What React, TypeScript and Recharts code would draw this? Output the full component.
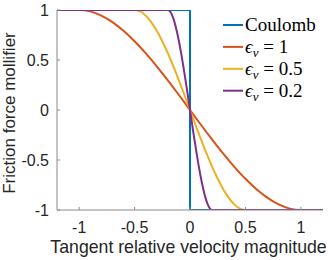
import React from "react";
import { LineChart, Line, XAxis, YAxis, Customized } from "recharts";

// Series names and colours
const seriesNames = ["Coulomb", "eps1", "eps05", "eps02"];
const seriesLabels = ["Coulomb", "1", "0.5", "0.2"];
const seriesColors = ["#0072BD", "#D95319", "#EDB120", "#7E2F8E"];

// Tick labels
const xTicks = [-1, -0.5, 0, 0.5, 1];
const yTicks = [-1, -0.5, 0, 0.5, 1];

// Coulomb (step)
const coulombV = [-1.2, 0, 0, 1.2];
const coulombF = [1, 1, -1, -1];

// epsilon_v = 1
const eps1V = [-1.2, -1, -0.9, -0.8, -0.7, -0.6, -0.5, -0.4, -0.3, -0.2, -0.1, 0, 0.1, 0.2, 0.3, 0.4, 0.5, 0.6, 0.7, 0.8, 0.9, 1, 1.2];
const eps1F = [1, 1, 0.986, 0.944, 0.879, 0.792, 0.688, 0.568, 0.437, 0.296, 0.15, 0, -0.15, -0.296, -0.437, -0.568, -0.688, -0.792, -0.879, -0.944, -0.986, -1, -1];

// epsilon_v = 0.5
const eps05V = [-1.2, -0.5, -0.45, -0.4, -0.35, -0.3, -0.25, -0.2, -0.15, -0.1, -0.05, 0, 0.05, 0.1, 0.15, 0.2, 0.25, 0.3, 0.35, 0.4, 0.45, 0.5, 1.2];
const eps05F = [1, 1, 0.986, 0.944, 0.879, 0.792, 0.688, 0.568, 0.437, 0.296, 0.15, 0, -0.15, -0.296, -0.437, -0.568, -0.688, -0.792, -0.879, -0.944, -0.986, -1, -1];

// epsilon_v = 0.2
const eps02V = [-1.2, -0.2, -0.18, -0.16, -0.14, -0.12, -0.1, -0.08, -0.06, -0.04, -0.02, 0, 0.02, 0.04, 0.06, 0.08, 0.1, 0.12, 0.14, 0.16, 0.18, 0.2, 1.2];
const eps02F = [1, 1, 0.986, 0.944, 0.879, 0.792, 0.688, 0.568, 0.437, 0.296, 0.15, 0, -0.15, -0.296, -0.437, -0.568, -0.688, -0.792, -0.879, -0.944, -0.986, -1, -1];

const toRows = (v: number[], f: number[]) => v.map((x, i) => ({ v: x, f: f[i] }));

const seriesData = [
  toRows(coulombV, coulombF),
  toRows(eps1V, eps1F),
  toRows(eps05V, eps05F),
  toRows(eps02V, eps02F),
];

const SANS = "'Liberation Sans', Arial, sans-serif";
const SERIF = "'Liberation Serif', 'Times New Roman', serif";

const tickStyle = { fontSize: 16, fill: "#262626", fontFamily: SANS };

const LegendSvg = () => {
  const x0 = 223;
  const y0 = 25;
  const step = 21.9;
  return (
    <g>
      {seriesNames.map((n, i) => {
        const cy = y0 + i * step;
        return (
          <g key={n}>
            <line x1={x0} y1={cy} x2={x0 + 20} y2={cy} stroke={seriesColors[i]} strokeWidth={2} />
            <text x={x0 + 22} y={cy + 6.2} style={{ fontFamily: SERIF, fontSize: 19, fill: "#000" }}>
              {i === 0 ? (
                seriesLabels[i]
              ) : (
                <>
                  <tspan fontStyle="italic">ϵ</tspan>
                  <tspan fontStyle="italic" fontSize={13} dy={4}>v</tspan>
                  <tspan dy={-4}>{" = " + seriesLabels[i]}</tspan>
                </>
              )}
            </text>
          </g>
        );
      })}
    </g>
  );
};

const YLabel = (props: any) => {
  const cx = 15;
  const cy = 113;
  return (
    <text
      x={cx}
      y={cy}
      transform={`rotate(-90, ${cx}, ${cy})`}
      textAnchor="middle"
      style={{ fontSize: 17, fill: "#262626", fontFamily: SANS }}
    >
      Friction force mollifier
    </text>
  );
};

const XLabel = (props: any) => (
  <text x={188.5} y={253} textAnchor="middle" style={{ fontSize: 17.7, fill: "#262626", fontFamily: SANS }}>
    Tangent relative velocity magnitude
  </text>
);

export default function App() {
  return (
    <div style={{ position: "absolute", left: 0, top: 0, background: "#fff" }}>
      <LineChart width={332} height={260} margin={{ top: 10, right: 9, left: 0, bottom: 0 }}>
        <XAxis
          dataKey="v"
          type="number"
          domain={[-1.2, 1.2]}
          ticks={xTicks}
          allowDataOverflow
          height={50}
          tickSize={-3}
          tickMargin={15}
          stroke="#8a8a8a"
          tick={tickStyle}
          label={<XLabel />}
        />
        <YAxis
          type="number"
          domain={[-1, 1]}
          ticks={yTicks}
          allowDataOverflow
          width={57}
          tickSize={-3}
          tickMargin={11}
          stroke="#8a8a8a"
          tick={tickStyle}
          label={<YLabel />}
        />
        {seriesData.map((d, i) => (
          <Line
            key={seriesNames[i]}
            data={d}
            dataKey="f"
            name={seriesNames[i]}
            type={i === 0 ? "linear" : "monotone"}
            stroke={seriesColors[i]}
            strokeWidth={2}
            dot={false}
            activeDot={false}
            isAnimationActive={false}
          />
        ))}
        <Customized component={LegendSvg} />
      </LineChart>
    </div>
  );
}
